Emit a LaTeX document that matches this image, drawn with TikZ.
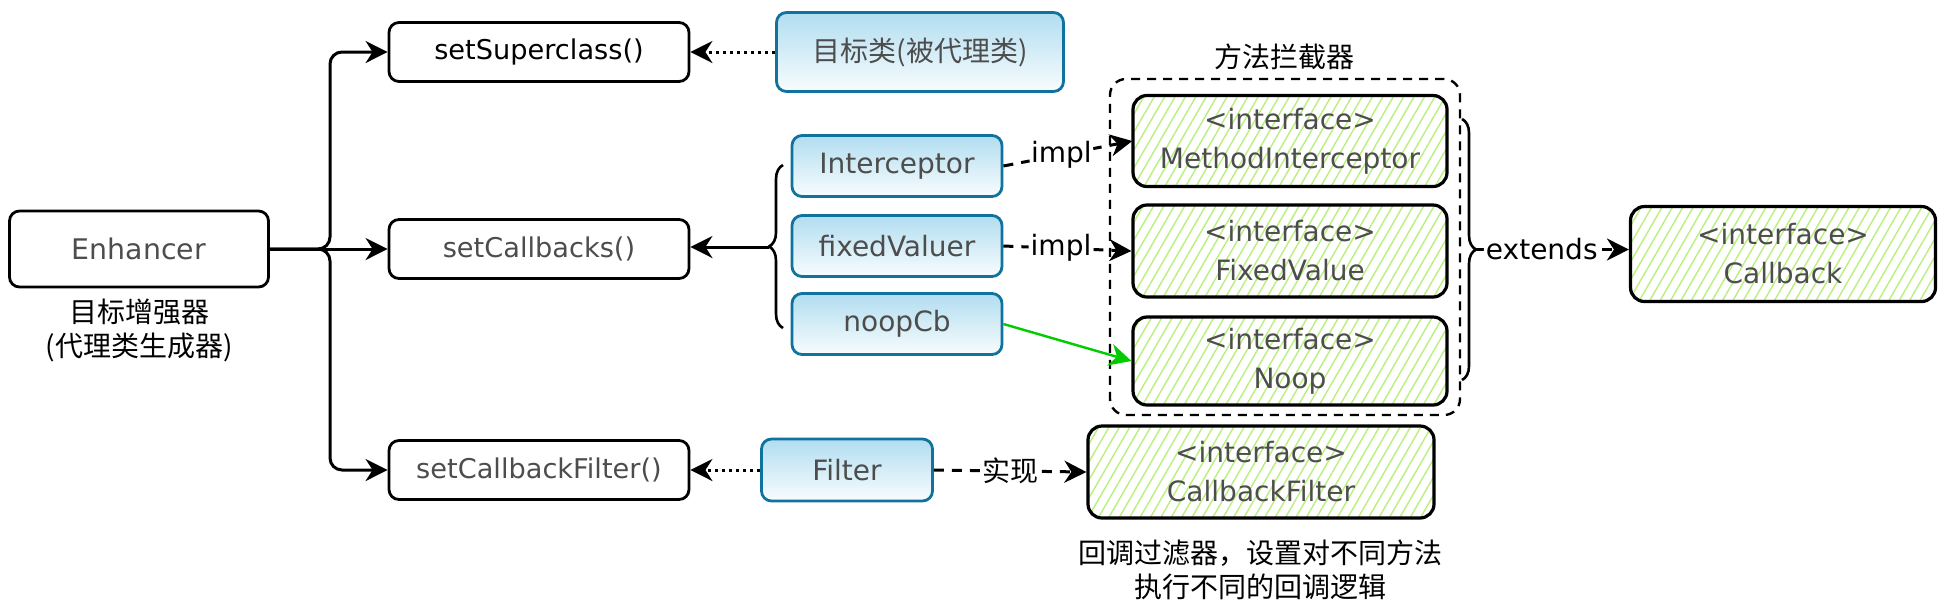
\documentclass[tikz,border=0pt]{standalone}
\usepackage{fontspec}
\setmainfont{DejaVu Sans}
\newfontfamily\cjk{Noto Sans CJK SC}
\usepackage{tikz}
\usetikzlibrary{arrows.meta,shapes,positioning,decorations.pathreplacing,patterns.meta}
\definecolor{clrText}{HTML}{4D4D4D}
\definecolor{clrBlue}{HTML}{10739E}
\definecolor{clrBlueFill}{HTML}{B1DDF0}
\definecolor{clrHatch}{HTML}{B9F07D}
\definecolor{clrGreen}{HTML}{00CC00}
\tikzstyle{box_style0}=[draw, rounded corners=5pt,
anchor=center, text centered, line width=1.4pt]
\tikzstyle{method}=[box_style0, minimum width=150pt, minimum height=29.5pt, text=clrText, font=\fontsize{13.6}{16}\selectfont]
\tikzstyle{cbbox}=[box_style0, draw=clrBlue, top color=clrBlueFill, bottom color=white!92!clrBlueFill, text=clrText, font=\fontsize{14}{17}\selectfont]
\tikzstyle{iface}=[box_style0, line width=1.6pt, rounded corners=7pt, pattern={Lines[angle=60,distance=4.5pt,line width=0.7pt]}, pattern color=clrHatch, text=clrText, align=center, font=\fontsize{14}{19.5}\selectfont]
\tikzstyle{myarrow}=[-{Stealth[length=11pt,width=11pt,inset=3.5pt]}, line width=1.5pt, rounded corners=6pt]
\tikzstyle{dotarrow}=[myarrow, dash pattern=on 1.5pt off 2pt]
\tikzstyle{dasharrow}=[myarrow, dash pattern=on 5pt off 4pt]
\tikzstyle{bracket}=[decorate, decoration={brace, amplitude=7pt}, line width=1.3pt]
\tikzstyle{lbl}=[fill=white, inner sep=1pt, font=\fontsize{14}{17}\selectfont]
\tikzstyle{cnlbl}=[align=center, font=\cjk\fontsize{14}{17}\selectfont]

\begin{document}
\begin{tikzpicture}[x=0.5pt, y=-0.5pt]
		\useasboundingbox (0,0) rectangle (1946,602);

		% generator and its setters
		\node[box_style0, minimum width=129.5pt, minimum height=38pt, text=clrText, font=\fontsize{14.2}{17}\selectfont] (enh) at (139,249) {Enhancer} ;
		\node[cnlbl] (enhlbl) at (139,330) {目标增强器\\(代理类生成器)} ;
		\coordinate (split) at (330,249) ;

		\node[method, text=black] (sup) at (539,52) {setSuperclass()} ;
		\draw[myarrow] (enh.east) -- (split) |- (sup.west) ;

		\node[method] (cbs) at (539,249) {setCallbacks()} ;
		\draw[myarrow] (enh.east) -- (cbs.west) ;

		\node[method] (cbf) at (539,470) {setCallbackFilter()} ;
		\draw[myarrow] (enh.east) -- (split) |- (cbf.west) ;

		% blue classes
		\node[cbbox, minimum width=143.5pt, minimum height=39.5pt, font=\cjk\fontsize{14}{17}\selectfont] (target) at (920,52) {目标类(被代理类)} ;
		\draw[dotarrow] (target.west) -- (sup.east) ;

		\node[cbbox, minimum width=105pt, minimum height=30.5pt] (icp) at (897,166) {Interceptor} ;
		\node[cbbox, minimum width=105pt, minimum height=30.5pt] (fixv) at (897,246) {fixedValuer} ;
		\node[cbbox, minimum width=105pt, minimum height=30.5pt] (noopcb) at (897,324) {noopCb} ;

		\coordinate (lbraceB) at (783,328) ;
		\coordinate (lbraceT) at (783,165) ;
		\coordinate (lbrace) at (769,247) ;
		\draw[bracket] (lbraceB) -- (lbraceT) ;
		\draw[myarrow] (lbrace) -- (lbrace -| cbs.east) ;

		\node[cbbox, minimum width=85.5pt, minimum height=31pt] (filter) at (847,470) {Filter} ;
		\draw[dotarrow] (filter.west) -- (cbf.east) ;

		% interfaces
		\node[draw, dash pattern=on 4.5pt off 3.5pt, line width=1.2pt, rounded corners=8pt, minimum width=175pt, minimum height=168pt] (grp) at (1285,247) {} ;
		\node[cnlbl] (grplbl) at (1284,57) {方法拦截器} ;

		\node[iface, minimum width=157pt, minimum height=45.5pt] (mi) at (1290,141) {<interface>\\MethodInterceptor} ;
		\draw[dasharrow] (icp.east) -- node[lbl, pos=0.45] {impl} (mi.west) ;

		\node[iface, minimum width=157pt, minimum height=46pt] (fv) at (1290,251) {<interface>\\FixedValue} ;
		\draw[dasharrow] (fixv.east) -- node[lbl, pos=0.45] {impl} (fv.west) ;

		\node[iface, minimum width=157pt, minimum height=44pt] (noop) at (1290,361) {<interface>\\Noop} ;
		\draw[myarrow, draw=clrGreen, fill=clrGreen, line width=1.2pt] (noopcb.east) -- (noop.west) ;

		\node[iface, minimum width=173pt, minimum height=46pt] (cfilter) at (1261,472) {<interface>\\CallbackFilter} ;
		\draw[dasharrow] (filter.east) -- node[lbl, font=\cjk\fontsize{14}{17}\selectfont] {实现} (cfilter.west) ;
		\node[cnlbl] (cflbl) at (1260,570) {回调过滤器，设置对不同方法\\执行不同的回调逻辑} ;

		\node[iface, minimum width=152.5pt, minimum height=47.5pt] (cb) at (1783,254) {<interface>\\Callback} ;
		\coordinate (rbraceT) at (1462,119) ;
		\coordinate (rbraceB) at (1462,380) ;
		\coordinate (rbrace) at (1476,249.5) ;
		\draw[bracket] (rbraceT) -- (rbraceB) ;
		\draw[dasharrow] (rbrace) -- node[lbl, pos=0.43] {extends} (rbrace -| cb.west) ;

	\end{tikzpicture}
\end{document}
